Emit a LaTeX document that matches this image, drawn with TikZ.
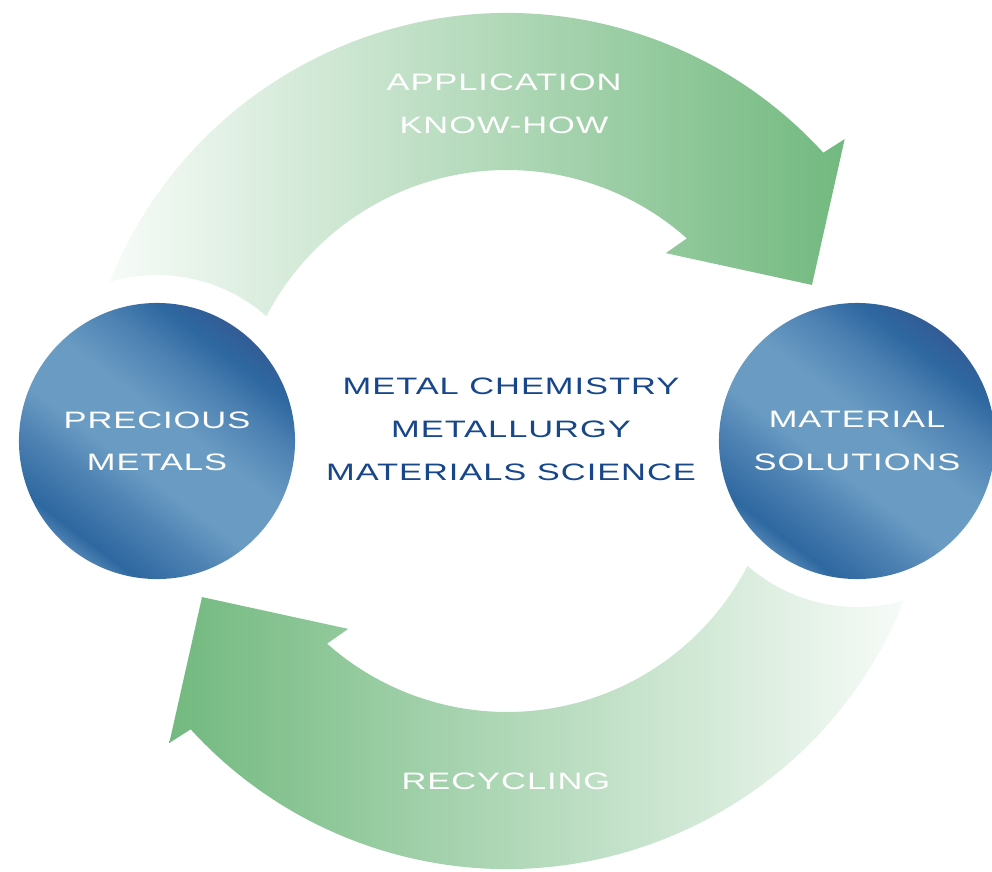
\documentclass[tikz,border=0pt]{standalone}
\usepackage{fontspec}
\setmainfont{Liberation Sans}
\newfontfamily\widefont[FakeStretch=1.45,LetterSpace=4]{Liberation Sans}

\definecolor{bandpale}{HTML}{F7FBF8}
\definecolor{bandmid}{HTML}{9BCDA8}
\definecolor{bandgreen}{HTML}{72B97F}
\definecolor{balllight}{HTML}{6A9CC3}
\definecolor{ballmid}{HTML}{4E82B3}
\definecolor{balldark}{HTML}{2E68A0}
\definecolor{ballnavy}{HTML}{335C96}
\definecolor{sciblue}{HTML}{17468A}

\pgfdeclarehorizontalshading{ballshade}{100bp}{color(0bp)=(ballmid); color(25bp)=(ballmid); color(28bp)=(balldark); color(37bp)=(ballmid); color(44bp)=(balllight); color(54bp)=(balllight); color(63bp)=(ballmid); color(70bp)=(balldark); color(75bp)=(ballnavy); color(100bp)=(ballnavy)}

\tikzset{
	ball/.style={circle, minimum size=6.9cm, inner sep=0pt, shading=ballshade, shading angle=53, text=white, align=center, font=\widefont\fontsize{16.9}{30}\selectfont},
	scitext/.style={text=sciblue, align=center, font=\widefont\fontsize{16.9}{30.6}\selectfont},
	bandtext/.style={text=white, align=center, font=\widefont\fontsize{16.9}{30.6}\selectfont}
}

\begin{document}
\begin{tikzpicture}[x=0.025cm, y=0.025cm]
			\useasboundingbox (-507,-430) rectangle (485,441);
			%%%%% START %%%%%
			
			% upper band, from the metals to the solutions
			\shade[left color=bandpale, middle color=bandmid, right color=bandgreen] (158.16:428) arc[start angle=158.16, end angle=42.35, radius=428] -- (41.8:453) -- (27.1:342.6) -- (49.8:246) -- (48.4:271) arc[start angle=48.4, end angle=152.58, radius=271] arc[start angle=48.75, end angle=106.55, radius=166] -- cycle;
			
			% lower band, back again
			\shade[left color=bandgreen, middle color=bandmid, right color=bandpale] (338.16:428) arc[start angle=338.16, end angle=222.35, radius=428] -- (221.8:453) -- (207.1:342.6) -- (229.8:246) -- (228.4:271) arc[start angle=228.4, end angle=332.58, radius=271] arc[start angle=228.75, end angle=286.55, radius=166] -- cycle;
			
			\node[ball] (precious) at (-350, 0) {PRECIOUS\\METALS};
			\node[ball] (solutions) at (350, 0) {MATERIAL\\SOLUTIONS};
			
			\node[scitext] (science) at (4, 12) {METAL CHEMISTRY\\METALLURGY\\MATERIALS SCIENCE};
			
			\node[bandtext] (knowhow) at (-3, 337) {APPLICATION\\KNOW-HOW};
			\node[bandtext] (recycling) at (-1, -340) {RECYCLING};
			
			%%%%% END %%%%%
\end{tikzpicture}
\end{document}
